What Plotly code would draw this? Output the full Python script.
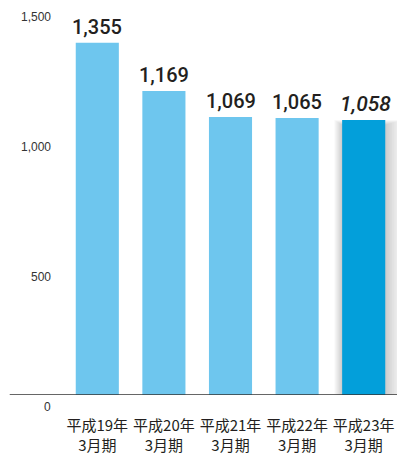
import plotly.graph_objects as go

categories = ["平成19年<br>3月期", "平成20年<br>3月期", "平成21年<br>3月期", "平成22年<br>3月期", "平成23年<br>3月期"]
values = [1355, 1169, 1069, 1065, 1058]
value_labels = ["1,355", "1,169", "1,069", "1,065", "1,058"]
tick_values = [0, 500, 1000, 1500]
tick_labels = ["0", "500", "1,000", "1,500"]

light = "#6EC6EE"
dark = "#039FDA"
colors = [light] * (len(values) - 1) + [dark]

fig = go.Figure()
fig.add_trace(go.Bar(
    x=list(range(len(values))), y=values,
    marker=dict(color=colors, line=dict(width=0)),
    width=0.647, hoverinfo="skip",
))

annotations = []
for i, (v, lab) in enumerate(zip(values, value_labels)):
    last = i == len(values) - 1
    annotations.append(dict(
        x=i + (0.03 if last else 0), y=v, xref="x", yref="y", text=lab, showarrow=False,
        yanchor="bottom", yshift=2,
        font=dict(family="Roboto, Liberation Sans, sans-serif", size=21 if last else 20,
                  color="#231F20", weight=500,
                  style="italic" if last else "normal"),
    ))
for tv, tl in zip(tick_values, tick_labels):
    annotations.append(dict(
        x=0, y=tv, xref="paper", yref="y", text=tl, showarrow=False,
        xanchor="right", xshift=-11, yanchor="middle", yshift=-12,
        font=dict(family="Liberation Sans, Arial, sans-serif", size=12, color="#333333"),
    ))

# soft shadow behind the highlighted last bar
shapes = []
li = len(values) - 1
lv = values[li]
for k in range(1, 11):
    shapes.append(dict(
        type="rect", xref="x", yref="y", layer="below",
        x0=li - 0.3235 - 0.012 * k, x1=li + 0.3235 + 0.026 * k,
        y0=0, y1=lv - 20 + 2 * k,
        fillcolor="rgba(0,0,0,0.02)", line=dict(width=0),
    ))
shapes.append(dict(
    type="line", xref="paper", yref="y", x0=-0.163, x1=1, y0=0, y1=0,
    line=dict(color="#333333", width=1.5),
))

fig.update_layout(
    width=397, height=455,
    margin=dict(l=64, r=0, t=5, b=60),
    paper_bgcolor="white", plot_bgcolor="white",
    showlegend=False,
    xaxis=dict(
        range=[-0.5, 4.5], tickvals=list(range(len(categories))), ticktext=categories,
        showgrid=False, zeroline=False, showline=False, ticks="",
        ticklabelstandoff=20,
        tickfont=dict(family="Noto Sans CJK JP, sans-serif", size=15, color="#231F20"),
        fixedrange=True,
    ),
    yaxis=dict(
        range=[0, 1500], showgrid=False, zeroline=False, showline=False,
        showticklabels=False, ticks="", fixedrange=True,
    ),
    annotations=annotations,
    shapes=shapes,
)

fig.write_html(
    "out.html",
    config={"displayModeBar": False},
    post_script="document.body.style.margin='0';document.body.style.overflow='hidden';",
)
